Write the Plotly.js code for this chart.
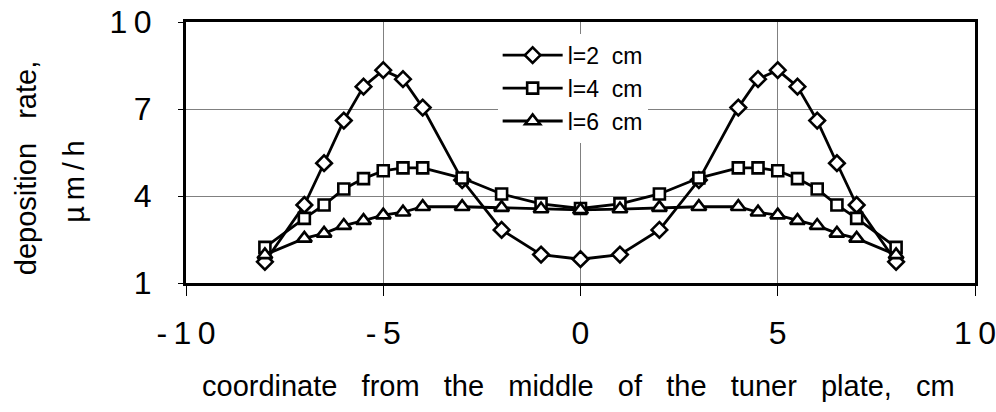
<!DOCTYPE html>
<html>
<head>
<meta charset="utf-8">
<script src="https://cdn.plot.ly/plotly-3.0.1.min.js"></script>
<style>html,body{margin:0;padding:0;background:#fff;}#chart{width:996px;height:412px;}</style>
</head>
<body>
<div id="chart"></div>
<script>
// ---- data ----
var xPos = [-8, -7, -6.5, -6, -5.5, -5, -4.5, -4, -3, -2, -1, 0, 1, 2, 3, 4, 4.5, 5, 5.5, 6, 6.5, 7, 8];
var rateL2 = [1.73, 3.69, 5.13, 6.60, 7.77, 8.34, 8.03, 7.05, 4.55, 2.83, 1.98, 1.82, 1.98, 2.83, 4.55, 7.05, 8.03, 8.34, 7.77, 6.60, 5.13, 3.69, 1.73];
var rateL4 = [2.23, 3.23, 3.69, 4.24, 4.60, 4.87, 4.97, 4.97, 4.62, 4.07, 3.73, 3.57, 3.73, 4.07, 4.62, 4.97, 4.97, 4.87, 4.60, 4.24, 3.69, 3.23, 2.23];
var rateL6 = [1.97, 2.54, 2.71, 2.98, 3.15, 3.34, 3.44, 3.63, 3.63, 3.60, 3.55, 3.52, 3.55, 3.60, 3.63, 3.63, 3.44, 3.34, 3.15, 2.98, 2.71, 2.54, 1.97];
var seriesNames = ['l=2\u00a0\u00a0cm', 'l=4\u00a0\u00a0cm', 'l=6\u00a0\u00a0cm'];
var xTickVals = [-10, -5, 0, 5, 10];
var xTickText = ['-\u20091\u20090', '-\u20095', '0', '5', '1\u20090'];
var yTickVals = [1, 4, 7, 10];
var yTickText = ['1', '4', '7', '1\u20090'];
var xTitle = 'coordinate\u00a0\u00a0\u00a0from\u00a0\u00a0\u00a0the\u00a0\u00a0\u00a0middle\u00a0\u00a0\u00a0of\u00a0\u00a0\u00a0the\u00a0\u00a0\u00a0tuner\u00a0\u00a0\u00a0plate,\u00a0\u00a0\u00a0cm';
var yTitle1 = 'deposition\u00a0\u00a0\u00a0rate,';
var yTitle2 = '\u00b5\u2009m\u2009/\u2009h';

var FONT = 'Liberation Sans, Arial, sans-serif';

function mk(y, name, symbol, size) {
  return {
    x: xPos, y: y, name: name, type: 'scatter', mode: 'lines+markers',
    line: {color: '#000', width: 2.8},
    marker: {symbol: symbol, size: size, color: '#fff', line: {color: '#000', width: 2.6}},
    cliponaxis: false
  };
}

var data = [
  mk(rateL2, seriesNames[0], 'diamond', 12),
  mk(rateL4, seriesNames[1], 'square', 11),
  mk(rateL6, seriesNames[2], 'triangle-up', 13)
];

var layout = {
  width: 996, height: 412,
  margin: {l: 186, r: 21, t: 22, b: 129},
  paper_bgcolor: '#fff', plot_bgcolor: '#fff',
  font: {family: FONT, color: '#000', size: 29},
  showlegend: true,
  legend: {
    x: 0.395, y: 0.955, xanchor: 'left', yanchor: 'top',
    bgcolor: '#fff', borderwidth: 0,
    font: {family: FONT, size: 23, color: '#000'},
    itemwidth: 60, tracegroupgap: 0
  },
  xaxis: {
    range: [-10, 10], tickvals: xTickVals, ticktext: xTickText,
    showgrid: true, gridcolor: '#808080', gridwidth: 1,
    zeroline: false, showline: true, linecolor: '#000', linewidth: 3, mirror: true,
    ticks: 'outside', ticklen: 10, tickwidth: 1, tickcolor: '#000',
    tickfont: {family: FONT, size: 32, color: '#000'},
    ticklabelstandoff: 10
  },
  yaxis: {
    range: [1, 10], tickvals: yTickVals, ticktext: yTickText,
    showgrid: true, gridcolor: '#808080', gridwidth: 1,
    zeroline: false, showline: true, linecolor: '#000', linewidth: 3, mirror: true,
    ticks: 'outside', ticklen: 5, tickwidth: 1, tickcolor: '#000',
    tickfont: {family: FONT, size: 32, color: '#000'},
    ticklabelstandoff: 20
  },
  annotations: [
    {text: xTitle, xref: 'paper', yref: 'paper', x: 0.498, y: -0.395, xanchor: 'center', yanchor: 'middle',
     showarrow: false, font: {family: FONT, size: 29, color: '#000'}},
    {text: yTitle1, xref: 'paper', yref: 'paper', x: -0.2034, y: 0.438, xanchor: 'center', yanchor: 'middle',
     textangle: -90, showarrow: false, font: {family: FONT, size: 29, color: '#000'}},
    {text: yTitle2, xref: 'paper', yref: 'paper', x: -0.1413, y: 0.386, xanchor: 'center', yanchor: 'middle',
     textangle: -90, showarrow: false, font: {family: FONT, size: 29, color: '#000'}}
  ]
};

Plotly.newPlot('chart', data, layout, {displayModeBar: false, staticPlot: true});
</script>
</body>
</html>
